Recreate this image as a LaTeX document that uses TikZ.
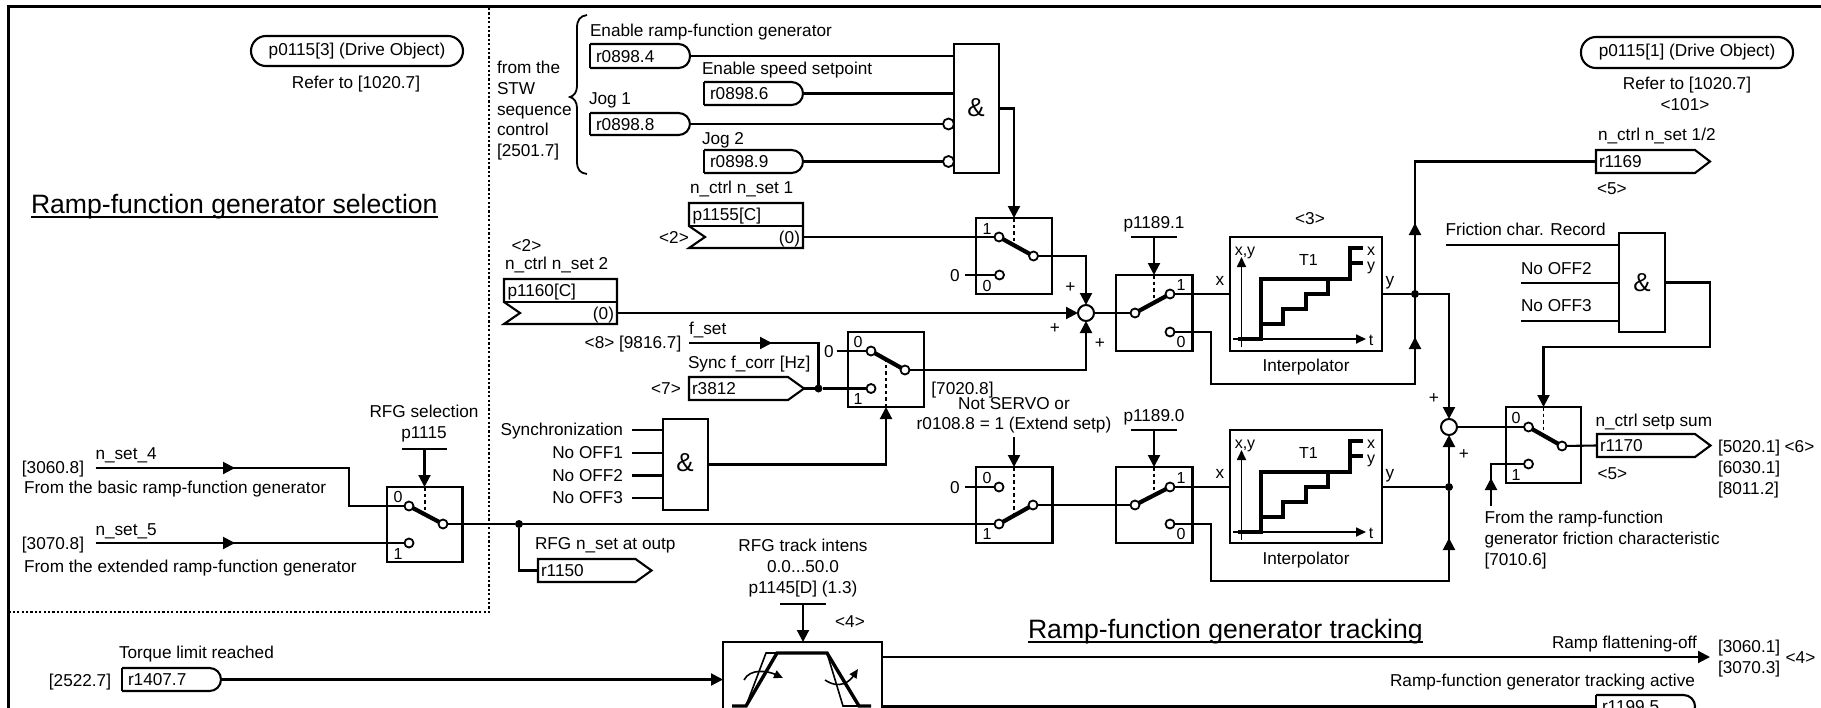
\documentclass[tikz,border=0pt]{standalone}
\usepackage{fontspec}
\setmainfont{Liberation Sans}
\usetikzlibrary{fit,calc,arrows.meta}
\tikzset{
  x=1pt,y=-1pt,
  every node/.style={font=\fontsize{17.2}{20}\selectfont,outer sep=0pt},
  txt/.style={inner sep=0pt,text height=12pt,text depth=0pt},
  small/.style={txt,font=\fontsize{16}{19}\selectfont},
  wire/.style={line width=2.1pt,line join=miter},
  arr/.style={wire,-{Triangle[length=12pt,width=12pt]}},
  thinarr/.style={line width=1.7pt,-{Triangle[length=10pt,width=9pt]}},
  swb/.style={draw,line width=2.1pt,inner sep=0pt},
  ghost/.style={inner sep=0pt},
  contact/.style={circle,draw,fill=white,line width=1.8pt,inner sep=0pt,minimum size=9pt},
  bubble/.style={circle,draw,fill=white,line width=1.8pt,inner sep=0pt,minimum size=11pt},
  dotj/.style={circle,fill=black,inner sep=0pt,minimum size=8pt},
  sumc/.style={circle,draw,fill=white,line width=2pt,inner sep=0pt,minimum size=16pt},
  ctrl/.style={line width=1.7pt,dash pattern=on 3.5pt off 3pt},
  blade/.style={line width=4.2pt},
  stair/.style={line width=3.4pt,line join=miter},
  pillbox/.style={draw,line width=2.1pt,rounded corners=15pt,inner sep=0pt},
  sigline/.style={line width=2.1pt,line join=miter},
  dotted border/.style={line width=2.2pt,dash pattern=on 2.2pt off 2.2pt},
}
\newcommand\lab[5][west]{\node[txt,anchor=#1] (#2) at (#3,#4) {#5};}
\newcommand\labs[5][center]{\node[small,anchor=#1] (#2) at (#3,#4) {#5};}
\newcommand\ultext[1]{\setbox0\hbox{#1}\leavevmode\rlap{\rule[-4.6pt]{\wd0}{1.8pt}}\box0}
% rounded signal box: name,x1,y1,x2,y2,text
\newcommand\sigR[6]{%
  \draw[sigline,rounded corners=11.4pt] (#2,#3) -- (#4,#3) -- (#4,#5) -- (#2,#5);
  \draw[sigline] (#2,#3) -- (#2,#5);
  \node[ghost,fit={(#2,#3)(#4,#5)}] (#1) {};
  \node[txt,anchor=west,xshift=6pt] (#1t) at (#1.west) {#6};}
% pentagon signal box: name,x1,y1,xbody,xtip,y2,text
\newcommand\sigP[7]{%
  \node[ghost,fit={(#2,#3)(#5,#6)}] (#1) {};
  \draw[sigline] (#2,#3) -- (#4,#3) -- (#1.east) -- (#4,#6) -- (#2,#6) -- cycle;
  \node[txt,anchor=west,xshift=3pt] (#1t) at (#1.west) {#7};}
% parameter box: name,x1,y1,ymid,y2,x2,notch x,text
\newcommand\sigV[8]{%
  \node[ghost,fit={(#2,#3)(#6,#4)}] (#1) {};
  \node[ghost,fit={(#2,#4)(#6,#5)}] (#1v) {};
  \draw[sigline] (#2,#4) -- (#2,#3) -- (#6,#3) -- (#6,#5) -- (#2,#5) -- (#7,0 |- #1v) -- cycle;
  \draw[sigline] (#2,#4) -- (#6,#4);
  \node[txt,anchor=west,xshift=3.5pt] (#1t) at (#1.west) {#8};
  \node[txt,anchor=east,xshift=-3pt] (#1z) at (#1v.east) {(0)};}
\newcommand\swbox[5]{\node[swb,fit={(#2,#3)(#4,#5)}] (#1) {};}
% contacts: name,ax,ay,bx,by,ox,oy,anchor of the dashed control line
\newcommand\swc[8]{%
  \coordinate (#1m) at ($(#2,#3)!.5!(#6,#7)$);
  \draw[ctrl] (#1.#8) -- (#1.#8 |- #1m);
  \draw[blade] (#2,#3) -- (#6,#7);
  \node[contact] (#1a) at (#2,#3) {};
  \node[contact] (#1b) at (#4,#5) {};
  \node[contact] (#1o) at (#6,#7) {};}
\newcommand\tbar[4]{%
  \coordinate (#1) at (#2,#3);
  \draw[wire] ($(#1)+(-#4,0)$) -- ($(#1)+(#4,0)$);}
% interpolator contents: prefix, dy
\newcommand\interp[2]{%
  \begin{scope}[shift={(0,#2)}]
    \draw[thinarr] (1241.5,347) -- (1241.5,257);
    \draw[thinarr] (1233,339) -- (1366,339);
    \draw[stair] (1238,339) -- (1261,339) -- (1261,279) -- (1350,279) -- (1350,248) -- (1363,248);
    \draw[stair] (1350,263) -- (1363,263);
    \draw[stair] (1261,324) -- (1283,324) -- (1283,309) -- (1306,309) -- (1306,294) -- (1328,294) -- (1328,279);
    \labs{#1xy}{1245}{249}{x,y}
    \labs{#1T}{1308.5}{259}{T1}
    \labs{#1tx}{1371}{339}{t}
    \labs{#1xx}{1371}{249}{x}
    \labs{#1yy}{1371}{264}{y}
    \lab[center]{#1x}{1220}{279}{x}
    \lab[center]{#1y}{1390}{279}{y}
    \lab[center]{#1name}{1306}{365}{Interpolator}
  \end{scope}}
\begin{document}
\begin{tikzpicture}
\useasboundingbox (0,0) rectangle (1821,707);
\fill[white] (0,0) rectangle (1821,707);
\clip (0,0) rectangle (1821,707);
% frame
\draw[line width=3.2pt] (8.5,730) -- (8.5,6.5) -- (1830,6.5);
\draw[dotted border] (489,8) -- (489,612) -- (10,612);

% top-left and top-right pills
\node[pillbox,minimum width=212pt,minimum height=30pt] (objl) at (357,51) {p0115[3] (Drive Object)};
\lab[center]{refl}{356}{82}{Refer to [1020.7]}
\node[pillbox,minimum width=212pt,minimum height=31pt] (objr) at (1687,52.5) {p0115[1] (Drive Object)};
\lab[center]{refr}{1687}{83}{Refer to [1020.7]}
\lab[center]{refn}{1685}{104}{<101>}

% titles
\node[txt,font=\fontsize{26.6}{30}\selectfont,anchor=base west,text height=19pt] (ttl1) at (31,213) {\ultext{Ramp-function generator selection}};
\node[txt,font=\fontsize{26.6}{30}\selectfont,anchor=base west,text height=19pt] (ttl2) at (1028,638) {\ultext{Ramp-function generator tracking}};

% STW
\lab{stw1}{497}{67}{from the}
\lab{stw2}{497}{88}{STW}
\lab{stw3}{497}{109}{sequence}
\lab{stw4}{497}{129}{control}
\lab{stw5}{497}{150}{[2501.7]}
\draw[line width=1.8pt] (587,15) .. controls (580,16) and (577,20) .. (577,28) -- (577,86) .. controls (577,92) and (574,96) .. (570,97) .. controls (574,98) and (577,102) .. (577,108) -- (577,161) .. controls (577,170) and (580,173) .. (587,174);

\lab{en1}{590}{30}{Enable ramp-function generator}
\lab{en2}{702}{68}{Enable speed setpoint}
\lab{jog1}{589}{98}{Jog 1}
\lab{jog2}{702}{138}{Jog 2}
\sigR{ra}{590}{44}{690}{68}{r0898.4}
\sigR{rb}{704}{82}{803}{105}{r0898.6}
\sigR{rc}{590}{113}{690}{135}{r0898.8}
\sigR{rd}{704}{150}{803}{173}{r0898.9}
\node[swb,fit={(954,44)(999,173)}] (andA) {};
\node[txt,font=\fontsize{26}{30}\selectfont,text height=17pt] (andAt) at (976,108) {\&};
\node[bubble] (bubc) at (948.5,124) {};
\node[bubble] (bubd) at (948.5,161.5) {};
\draw[wire] (ra.east) -- (ra.east -| andA.west);
\draw[wire] (rb.east) -- (rb.east -| andA.west);
\draw[wire] (rc.east) -- (bubc);
\draw[wire] (rd.east) -- (bubd);

% n_ctrl n_set 1 and switch 1
\lab{ns1}{690}{187}{n\_ctrl n\_set 1}
\sigV{pa}{689}{203}{226}{248}{803}{705}{p1155[C]}
\lab[center]{pan}{674}{237}{<2>}
\swbox{swA}{976}{218}{1052}{294}
\swc{swA}{999}{237}{999.5}{275}{1033.5}{256}{north}
\labs{swAl}{987}{228}{1}
\labs{swAk}{987}{285}{0}
\lab[center]{zA}{955}{275}{0}
\draw[wire] ([xshift=5pt]zA.east) -- (swAb);
\draw[wire] (pav.east) -- (swAa);
\draw[arr] (andA.east) -| (swA.north);

% n_ctrl n_set 2
\lab[center]{pbn}{526.5}{245}{<2>}
\lab{ns2}{505}{263}{n\_ctrl n\_set 2}
\sigV{pb}{504}{279}{302}{324}{617}{520}{p1160[C]}
\node[sumc] (sumA) at (1086,313) {};
\draw[arr] (pbv.east) -- (sumA);
\draw[arr] (swAo) -| (sumA);
\lab[center]{plA}{1070.5}{286}{+}
\lab[center]{plB}{1055}{327}{+}
\lab[center]{plC}{1100}{342}{+}

% f_set and switch 2
\lab{fset}{689}{328}{f\_set}
\lab[center]{fref}{633}{342}{<8> [9816.7]}
\lab{sync}{688}{362}{Sync f\_corr [Hz]}
\lab[center]{r38n}{666}{388}{<7>}
\sigP{rs}{689}{377}{788}{804}{400}{r3812}
\node[dotj] (jf) at (818.5,388.5) {};
\swbox{swB}{848}{332}{924}{407}
\swc{swB}{871}{351}{871}{388.5}{905}{370}{south}
\labs{swBk}{858}{341}{0}
\labs{swBl}{858}{398}{1}
\lab[center]{zB}{829}{351}{0}
\draw[wire] ([xshift=3pt]zB.east) -- (swBa);
\coordinate (fs) at (689,343);
\coordinate (fstip) at (772,343);
\draw[wire] (fs) -- (fs -| jf) -- (jf);
\draw[arr] (fs) -- (fstip);
\draw[wire] (rs.east) -- (jf) -- (swBb);
\draw[arr] (swBo) -| (sumA);
\lab[center]{cfA}{962.5}{388}{[7020.8]}

% AND 2
\lab[east]{iA}{623}{429}{Synchronization}
\lab[east]{iB}{623}{452}{No OFF1}
\lab[east]{iC}{623}{475}{No OFF2}
\lab[east]{iD}{623}{497}{No OFF3}
\node[swb,fit={(663,419)(708,510)}] (andB) {};
\node[txt,font=\fontsize{26}{30}\selectfont,text height=17pt] (andBt) at (685,463) {\&};
\coordinate (iAc) at (632,430);
\coordinate (iBc) at (632,453);
\coordinate (iCc) at (632,475.5);
\coordinate (iDc) at (632,498);
\draw[wire] (iAc) -- (iAc -| andB.west);
\draw[wire] (iBc) -- (iBc -| andB.west);
\draw[wire] (iCc) -- (iCc -| andB.west);
\draw[wire] (iDc) -- (iDc -| andB.west);
\draw[arr] (andB.east) -| (swB.south);

% RFG selection
\lab[center]{rfgA}{424}{411}{RFG selection}
\lab[center]{rfgB}{424}{432}{p1115}
\tbar{barS}{424.5}{449}{22.5}
\swbox{swS}{387}{487}{462.5}{562}
\swc{swS}{409}{506}{409}{543}{443}{524}{north}
\labs{swSk}{398}{496}{0}
\labs{swSl}{398}{553}{1}
\draw[arr] (barS) -- (barS |- swS.north);
\lab[center]{c34}{53}{467}{[3060.8]}
\lab{n4}{95.5}{453}{n\_set\_4}
\lab{fb}{24}{487}{From the basic ramp-function generator}
\lab[center]{c35}{53}{543}{[3070.8]}
\lab{n5}{95.5}{529}{n\_set\_5}
\lab{fe}{24}{566}{From the extended ramp-function generator}
\coordinate (n4s) at (95.5,468);
\coordinate (n4tip) at (235,468);
\coordinate (n4c) at (349,468);
\coordinate (n5s) at (95.5,543);
\coordinate (n5tip) at (235,543);
\draw[wire] (n4s) -- (n4c) |- (swSa);
\draw[arr] (n4s) -- (n4tip);
\draw[wire] (n5s) -- (swSb);
\draw[arr] (n5s) -- (n5tip);

% RFG n_set at outp
\lab{rfgo}{535}{543}{RFG n\_set at outp}
\sigP{rt}{538}{559}{635.5}{651.5}{582}{r1150}
\node[dotj] (jr) at (519,524) {};
\draw[wire] (jr) |- (rt.west);

% switch 3
\lab[center]{nsA}{1014}{403}{Not SERVO or}
\lab[center]{nsB}{1014}{423}{r0108.8 = 1 (Extend setp)}
\coordinate (nsc) at (1014,437);
\swbox{swC}{976}{467}{1052.5}{543}
\swc{swC}{999}{524}{999}{487}{1033}{505}{north}
\labs{swCk}{987}{477}{0}
\labs{swCl}{987}{533}{1}
\lab[center]{zC}{955}{487}{0}
\draw[wire] ([xshift=5pt]zC.east) -- (swCb);
\draw[arr] (nsc) -- (nsc |- swC.north);
\draw[wire] (swSo) -- (jr) -- (swCa);

% switches 4
\lab[center]{pU}{1154}{222}{p1189.1}
\tbar{barU}{1154}{237}{23}
\swbox{swU}{1116}{275}{1192.5}{351}
\swc{swU}{1135}{313}{1170}{332}{1170}{294}{north}
\labs{swUl}{1181}{284}{1}
\labs{swUk}{1181}{341}{0}
\draw[arr] (barU) -- (barU |- swU.north);
\draw[wire] (sumA) -- (swUa);
\lab[center]{pL}{1154}{415}{p1189.0}
\tbar{barL}{1154}{430}{23}
\swbox{swL}{1116}{467}{1192.5}{543}
\swc{swL}{1135}{505}{1170}{524}{1170}{487}{north}
\labs{swLl}{1181}{477}{1}
\labs{swLk}{1181}{533}{0}
\draw[arr] (barL) -- (barL |- swL.north);
\draw[wire] (swCo) -- (swLa);

% interpolators
\lab[center]{ipA}{1310}{218}{<3>}
\node[swb,fit={(1230,237)(1382,351)}] (ipU) {};
\node[swb,fit={(1230,430)(1382,543)}] (ipL) {};
\interp{ia}{0}
\interp{ib}{193}
\coordinate (jU) at (1415,294);
\node[dotj] (jUd) at (jU) {};
\node[dotj] (jLd) at (1449,487) {};
\node[sumc] (sumB) at (1449,427) {};
\draw[wire] (swUo) -- (swUo -| ipU.west);
\draw[wire] (swLo) -- (swLo -| ipL.west);
\draw[wire] (jUd -| ipU.east) -- (jUd);
\draw[wire] (jLd -| ipL.east) -- (jLd);
\draw[arr] (jUd) -| (sumB);
\coordinate (lowA) at (1415,384);
\coordinate (tipA) at (1415,337);
\coordinate (tipB) at (1415,223);
\coordinate (lowB) at (1449,581);
\coordinate (tipC) at (1449,538);
\coordinate (turnA) at (1211,384);
\coordinate (turnB) at (1211,581);
\sigP{rr}{1596}{150}{1695}{1710}{173}{r1169}
\draw[wire] (swUb) -| (turnA) -- (lowA) |- (rr.west);
\draw[arr] (lowA) -- (tipA);
\draw[arr] (jUd) -- (tipB);
\draw[wire] (swLb) -| (turnB) -- (lowB) -- (jLd);
\draw[arr] (lowB) -- (tipC);
\draw[arr] (jLd) -- (sumB);
\lab{rrn}{1598}{134}{n\_ctrl n\_set 1/2}
\lab{rrf}{1597}{188}{<5>}
\lab[center]{plD}{1434}{397}{+}
\lab[center]{plE}{1464}{453}{+}

% AND 3 and switch 5
\lab{fc}{1445.5}{229}{Friction char. Record}
\lab{o2}{1521}{268}{No OFF2}
\lab{o3}{1521}{305}{No OFF3}
\node[swb,fit={(1619,233)(1664.6,332)}] (andC) {};
\node[txt,font=\fontsize{26}{30}\selectfont,text height=17pt] (andCt) at (1642,283) {\&};
\coordinate (fcc) at (1445.5,245);
\coordinate (o2c) at (1521,283);
\coordinate (o3c) at (1521,321);
\draw[wire] (fcc) -- (fcc -| andC.west);
\draw[wire] (o2c) -- (o2c -| andC.west);
\draw[wire] (o3c) -- (o3c -| andC.west);
\swbox{swF}{1506}{407}{1581}{483}
\swc{swF}{1528.5}{427}{1528.5}{464}{1562}{446}{north}
\labs{swFk}{1516}{417}{0}
\labs{swFl}{1516}{474}{1}
\coordinate (andCb) at (1709.6,347);
\draw[arr] (andC.east) -| (andCb) -- (andCb -| swF.north) -- (swF.north);
\draw[wire] (sumB) -- (swFa);
\coordinate (frA) at (1491,506);
\coordinate (frT) at (1491,478);
\draw[wire] (frA) |- (swFb);
\draw[arr] (frA) -- (frT);
\lab{fr1}{1484.5}{517}{From the ramp-function}
\lab{fr2}{1484.5}{538}{generator friction characteristic}
\lab{fr3}{1484.5}{559}{[7010.6]}
\lab{sm}{1595.5}{420}{n\_ctrl setp sum}
\sigP{rf}{1597}{434}{1695}{1710.5}{457}{r1170}
\draw[wire] (swFo) -- (rf.west);
\lab{sf}{1597.5}{473}{<5>}
\lab{c51}{1718}{446}{[5020.1]}
\lab[center]{c6}{1799.5}{446}{<6>}
\lab{c60}{1718}{467}{[6030.1]}
\lab{c80}{1718}{488}{[8011.2]}

% tracking
\lab[center]{tiA}{803}{545}{RFG track intens}
\lab[center]{tiB}{803}{566}{0.0...50.0}
\lab[center]{tiC}{803}{587}{p1145[D] (1.3)}
\lab[center]{tiD}{850}{621}{<4>}
\tbar{barT}{803}{604}{23}
\node[swb,fit={(723,642)(882,730)}] (ramp) {};
\draw[arr] (barT) -- (barT |- ramp.north);
\draw[stair] (732,706) -- (746,706) -- (777,653) -- (827,653) -- (859,706) -- (871,706);
\draw[line width=1.6pt] (746,706) -- (766,653) -- (777,653);
\draw[line width=1.6pt] (827,653) -- (843,706) -- (859,706);
\draw[line width=1.6pt,-{Triangle[length=9pt,width=8pt]}] (744,680) .. controls (750,668) and (768,671) .. (783,678);
\draw[line width=1.6pt,-{Triangle[length=9pt,width=8pt]}] (825,680) .. controls (840,690) and (850,681) .. (858,669);
\lab{tq}{119}{652}{Torque limit reached}
\lab[center]{tr}{80}{680}{[2522.7]}
\sigR{rq}{122}{668}{221}{691}{r1407.7}
\draw[arr] (rq.east) -- (rq.east -| ramp.west);
\coordinate (rfo) at (1710,657);
\draw[arr] (rfo -| ramp.east) -- (rfo);
\lab[east]{rfl}{1697}{642}{Ramp flattening-off}
\lab[east]{rta}{1695}{680}{Ramp-function generator tracking active}
\lab{c30}{1718}{646}{[3060.1]}
\lab{c37}{1718}{667}{[3070.3]}
\lab[center]{c4}{1800.5}{657}{<4>}
\sigR{rz}{1596}{695}{1695}{718}{r1199.5}
\draw[wire] (rz.west -| ramp.east) -- (rz.west);
\end{tikzpicture}
\end{document}
